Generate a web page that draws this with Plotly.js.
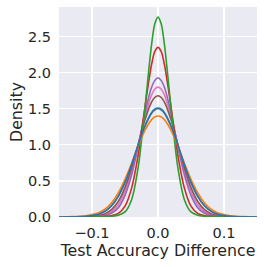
<!DOCTYPE html>
<html><head><meta charset="utf-8">
<script src="https://cdn.plot.ly/plotly-3.0.1.min.js"></script>
<style>html,body{margin:0;padding:0;background:#fff;}#chart{width:264px;height:267px;}</style>
</head><body><div id="chart"></div>
<script>
const xGrid = [-0.15,-0.13,-0.11,-0.10,-0.09,-0.08,-0.07,-0.06,-0.05,-0.04,-0.03,-0.02,-0.01,-0.005,0,0.005,0.01,0.02,0.03,0.04,0.05,0.06,0.07,0.08,0.09,0.10,0.11,0.13,0.15];

const greenY  = [0,0,0.0005,0.001,0.002,0.004,0.01,0.025,0.07,0.24,0.69,1.49,2.37,2.67,2.77,2.67,2.37,1.49,0.69,0.24,0.07,0.025,0.01,0.004,0.002,0.001,0.0005,0,0];
const redY    = [0,0.0005,0.001,0.002,0.004,0.008,0.02,0.05,0.15,0.40,0.86,1.51,2.10,2.29,2.35,2.29,2.10,1.51,0.86,0.40,0.15,0.05,0.02,0.008,0.004,0.002,0.001,0.0005,0];
const purpleY = [0,0.0005,0.002,0.004,0.009,0.022,0.055,0.13,0.30,0.58,0.98,1.43,1.79,1.89,1.93,1.89,1.79,1.43,0.98,0.58,0.30,0.13,0.055,0.022,0.009,0.004,0.002,0.0005,0];
const pinkY   = [0,0.0008,0.003,0.006,0.013,0.032,0.076,0.172,0.353,0.634,1.00,1.387,1.686,1.771,1.80,1.771,1.686,1.387,1.00,0.634,0.353,0.172,0.076,0.032,0.013,0.006,0.003,0.0008,0];
const brownY  = [0.0003,0.001,0.004,0.009,0.02,0.047,0.105,0.218,0.407,0.678,1.009,1.339,1.587,1.656,1.68,1.656,1.587,1.339,1.009,0.678,0.407,0.218,0.105,0.047,0.02,0.009,0.004,0.001,0.0003];
const grayY   = [0.0005,0.002,0.009,0.02,0.04,0.083,0.163,0.293,0.483,0.726,0.997,1.251,1.434,1.483,1.50,1.483,1.434,1.251,0.997,0.726,0.483,0.293,0.163,0.083,0.04,0.02,0.009,0.002,0.0005];
const blueY   = [0.0005,0.002,0.009,0.02,0.038,0.081,0.159,0.289,0.479,0.724,0.999,1.257,1.442,1.493,1.51,1.493,1.442,1.257,0.999,0.724,0.479,0.289,0.159,0.081,0.038,0.02,0.009,0.002,0.0005];
const orangeY = [0.001,0.005,0.018,0.035,0.06,0.112,0.2025,0.338,0.522,0.745,0.982,1.196,1.346,1.386,1.40,1.386,1.346,1.196,0.982,0.745,0.522,0.338,0.2025,0.112,0.06,0.035,0.018,0.005,0.001];

const xTickVals = [-0.1, 0.0, 0.1];
const xTickText = ['\u22120.1', '0.0', '0.1'];
const yTickVals = [0, 0.5, 1.0, 1.5, 2.0, 2.5];
const yTickText = ['0.0', '0.5', '1.0', '1.5', '2.0', '2.5'];

const series = [
  {y: grayY, c: '#7f7f7f'},
  {y: pinkY, c: '#e377c2'},
  {y: brownY, c: '#8c564b'},
  {y: purpleY, c: '#9467bd'},
  {y: redY, c: '#d62728'},
  {y: greenY, c: '#2ca02c'},
  {y: orangeY, c: '#ff7f0e'},
  {y: blueY, c: '#1f77b4'}
];

const traces = series.map(s => ({
  x: xGrid, y: s.y, type: 'scatter', mode: 'lines',
  line: {color: s.c, width: 1.6, shape: 'spline', smoothing: 0.8},
  hoverinfo: 'skip', showlegend: false
}));

const font = {family: 'DejaVu Sans, sans-serif', size: 14.5, color: '#262626'};
const titleFont = {family: 'DejaVu Sans, sans-serif', size: 15.8, color: '#262626'};
const layout = {
  width: 264, height: 267,
  margin: {l: 59, r: 7, t: 7, b: 50},
  paper_bgcolor: '#ffffff', plot_bgcolor: '#EAEAF2',
  font: font,
  showlegend: false,
  xaxis: {
    range: [-0.15, 0.15], tickvals: xTickVals, ticktext: xTickText,
    showgrid: true, gridcolor: '#ffffff', gridwidth: 1.2,
    zeroline: false, showline: false,
    ticks: 'outside', ticklen: 3, tickcolor: 'rgba(0,0,0,0)',
    tickfont: font,
    title: {text: 'Test Accuracy Difference', font: titleFont, standoff: 1}
  },
  yaxis: {
    range: [0, 2.91], tickvals: yTickVals, ticktext: yTickText,
    showgrid: true, gridcolor: '#ffffff', gridwidth: 1.2,
    zeroline: false, showline: false,
    ticks: 'outside', ticklen: 4, tickcolor: 'rgba(0,0,0,0)',
    tickfont: font,
    title: {text: 'Density', font: titleFont, standoff: 1}
  }
};
Plotly.newPlot('chart', traces, layout, {staticPlot: true, displayModeBar: false});
</script></body></html>
